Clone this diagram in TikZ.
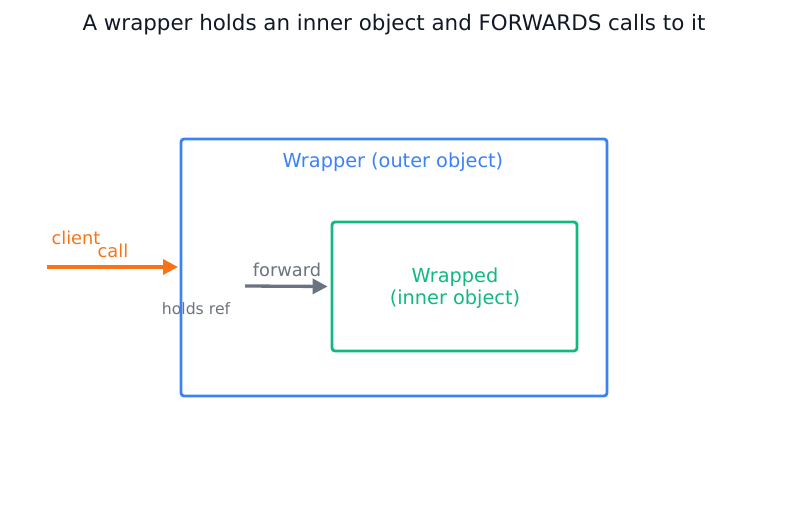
\documentclass[tikz,border=0pt]{standalone}
\usepackage{fontspec}
\setmainfont{DejaVu Sans}
\usetikzlibrary{arrows.meta}
\definecolor{cblue}{HTML}{3B82F6}
\definecolor{cgreen}{HTML}{10B981}
\definecolor{corange}{HTML}{F97316}
\definecolor{cgray}{HTML}{6B7280}
\definecolor{ctitle}{HTML}{111827}
\tikzset{
  boxframe/.style={draw, line width=2.8pt, rounded corners=3pt, inner sep=0pt},
  lbl/.style={inner sep=0pt, anchor=center},
  arr/.style={line width=3.3pt, -{Triangle[length=15pt,width=15pt]}},
}
\begin{document}
\begin{tikzpicture}[x=1pt,y=-1pt]
\useasboundingbox (0,0) rectangle (787,508);
\node[lbl, text=ctitle, font=\fontsize{21.4}{25}\selectfont] (title) at (394,25) {A wrapper holds an inner object and FORWARDS calls to it};
\node[lbl, text=cgray, font=\fontsize{15.7}{18}\selectfont] (holds) at (196,309) {holds ref};
\draw[boxframe, cblue] (181,139) rectangle (607,396);
\coordinate (wl) at (181,267);
\node[lbl, text=cblue, font=\fontsize{19.3}{22}\selectfont] (wtitle) at (393,162) {Wrapper (outer object)};
\node[boxframe, cgreen, minimum width=245pt, minimum height=129pt] (inner) at (454.5,286.5) {};
\node[lbl, text=cgreen, font=\fontsize{19.3}{21.5}\selectfont, align=center] (innerlbl) at (455,288) {Wrapped\\(inner object)};
\coordinate (cstart) at (47,267);
\draw[arr, corange] (cstart) -- ([xshift=-3pt]wl);
\node[lbl, text=corange, font=\fontsize{17.8}{21}\selectfont] (client) at (76,238) {client};
\node[lbl, text=corange, font=\fontsize{17.8}{21}\selectfont] (call) at (113,251) {call};
\coordinate (fstart) at (245,286);
\draw[arr, cgray] (fstart) -- ([xshift=-3pt]inner.west);
\node[lbl, text=cgray, font=\fontsize{17.8}{21}\selectfont] (fwd) at (287,270) {forward};
\end{tikzpicture}
\end{document}
